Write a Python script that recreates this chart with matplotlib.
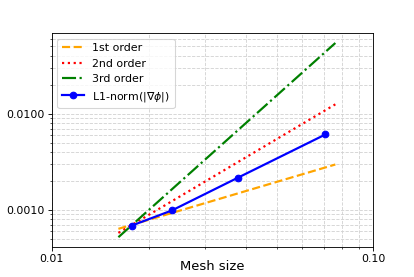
import matplotlib
matplotlib.use('Agg')
import matplotlib.pyplot as plt
from matplotlib.ticker import FormatStrFormatter, NullFormatter

# Measured error vs mesh size
mesh = [0.0177, 0.0236, 0.0378, 0.0709]
err = [0.000685, 0.000984, 0.00215, 0.00608]

# Reference slope lines (end points)
ref_x = [0.0161, 0.0761]
first = [0.000634, 0.00296]
second = [0.000575, 0.0125]
third = [0.000519, 0.0543]

dpi = 79
fig, ax = plt.subplots(figsize=(415 / dpi, 277 / dpi), dpi=dpi)
fig.subplots_adjust(left=0.125, right=0.9, top=0.88, bottom=0.11)

ax.plot(ref_x, first, linestyle='--', color='orange', linewidth=2, label='1st order')
ax.plot(ref_x, second, linestyle=':', color='red', linewidth=2, label='2nd order')
ax.plot(ref_x, third, linestyle='-.', color='green', linewidth=2, label='3rd order')
ax.plot(mesh, err, '-o', color='blue', linewidth=2, markersize=6, label=r'L1-norm($|\nabla\phi|$)')

ax.set_xscale('log')
ax.set_yscale('log')
ax.set_xlim(0.01, 0.1)
ax.set_ylim(0.000415, 0.0686)
ax.set_xticks([0.01, 0.1])
ax.xaxis.set_major_formatter(FormatStrFormatter('%.2f'))
ax.xaxis.set_minor_formatter(NullFormatter())
ax.yaxis.set_major_formatter(FormatStrFormatter('%.4f'))
ax.yaxis.set_minor_formatter(NullFormatter())
ax.tick_params(labelsize=10)

ax.grid(True, which='both', linestyle='--', color='lightgray', linewidth=0.8)
ax.set_xlabel('Mesh size', fontsize=12, labelpad=-4)
ax.legend(loc='upper left', fontsize=10)

plt.savefig('out.png', dpi=dpi)
